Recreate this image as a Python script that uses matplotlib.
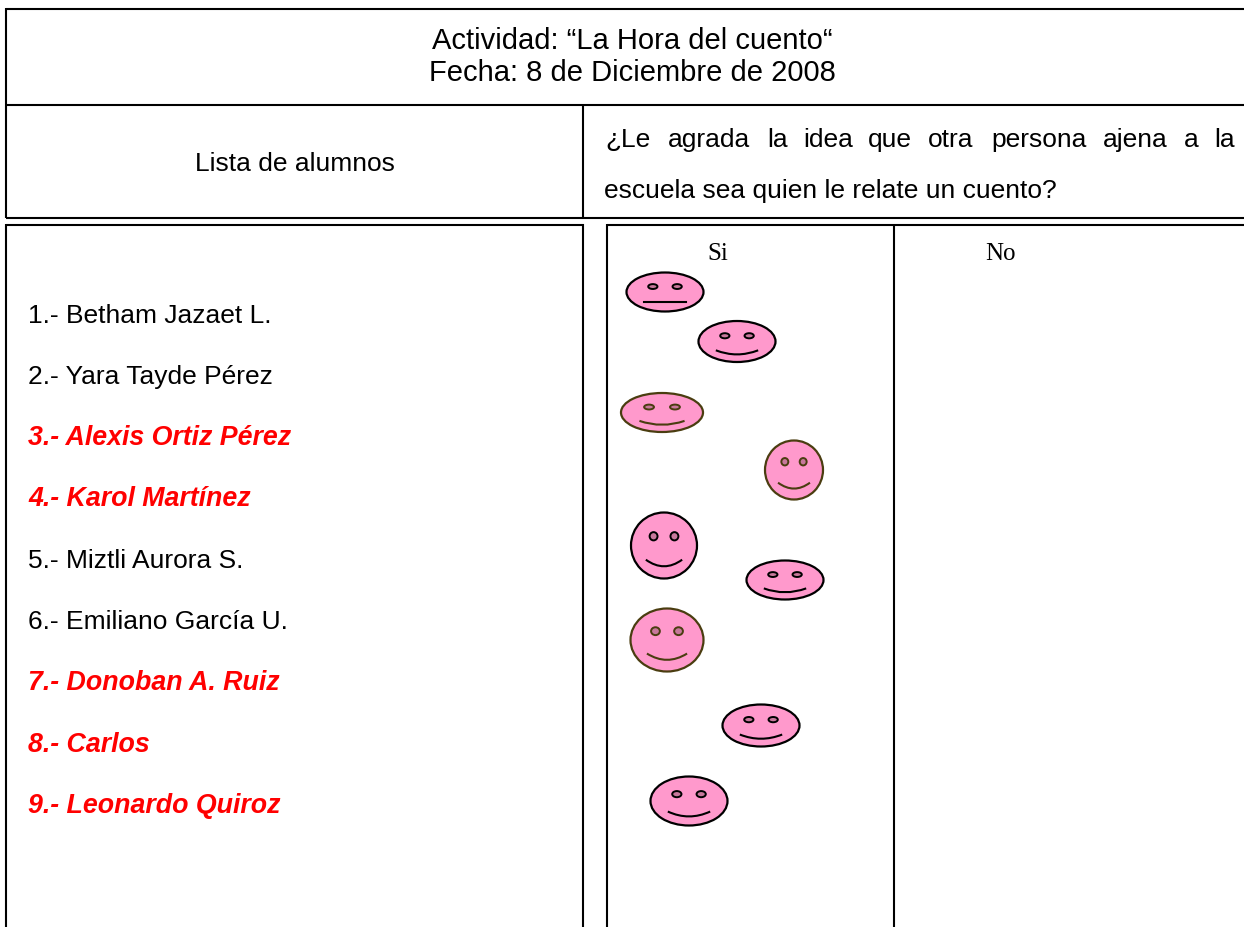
import matplotlib
matplotlib.use("Agg")
import matplotlib.pyplot as plt
from matplotlib.patches import Ellipse, PathPatch
from matplotlib.path import Path

# header text
titulo = ["Actividad: “La Hora del cuento“", "Fecha: 8 de Diciembre de 2008"]
lista_titulo = "Lista de alumnos"
pregunta_1 = ["¿Le", "agrada", "la", "idea", "que", "otra", "persona", "ajena", "a", "la"]
pregunta_1_x = [605, 668, 767, 803, 868, 928, 991, 1103, 1184, 1214]
pregunta_2 = "escuela sea quien le relate un cuento?"

alumnos = ["1.- Betham Jazaet L.", "2.- Yara Tayde Pérez", "3.- Alexis Ortiz Pérez",
           "4.- Karol Martínez", "5.- Miztli Aurora S.", "6.- Emiliano García U.",
           "7.- Donoban A. Ruiz", "8.- Carlos", "9.- Leonardo Quiroz"]
alumnos_y = [323, 384, 445, 506, 568, 629, 690, 752, 813]
en_rojo = [False, False, True, True, False, False, True, True, True]

# faces: centre x, centre y, width, height
cara_x = [665, 737, 662, 794, 664, 785, 667, 761, 689]
cara_y = [293, 342.5, 413.5, 471, 546.5, 581, 641, 726.5, 802]
cara_w = [77, 77, 82, 58, 66, 77, 73, 77, 77]
cara_h = [39, 41, 39, 59, 66, 39, 63, 42, 49]
cara_borde = ["black", "black", "#4a3d10", "#4a3d10", "black", "black", "#4a3d10", "black", "black"]
cara_recta = [True, False, False, False, False, False, False, False, False]

ROSA = "#ff99cc"
FUENTE = "Liberation Sans"

fig = plt.figure(figsize=(12.44, 9.28), dpi=100)
ax = fig.add_axes([0, 0, 1, 1])
ax.set_xlim(0, 1244)
ax.set_ylim(928, 0)
ax.axis("off")

# table lines
lw = 1.5
for y, x0, x1 in [(9.5, 6, 1244), (105.5, 6, 1244), (218.5, 6, 1244), (225.5, 6, 584), (225.5, 607, 1244)]:
    ax.plot([x0, x1], [y, y], color="black", lw=lw, solid_capstyle="butt")
for x, y0, y1 in [(6, 9, 219), (6, 225, 930), (583, 105, 219), (583, 225, 930),
                  (607, 225, 930), (894, 225, 930)]:
    ax.plot([x, x], [y0, y1], color="black", lw=lw, solid_capstyle="butt")

# header
ax.text(632, 49, titulo[0], family=FUENTE, fontsize=21, ha="center", va="baseline")
ax.text(632, 81, titulo[1], family=FUENTE, fontsize=21, ha="center", va="baseline")
ax.text(295, 164, lista_titulo, family=FUENTE, fontsize=19, ha="center", va="center")
for palabra, x in zip(pregunta_1, pregunta_1_x):
    ax.text(x, 147, palabra, family=FUENTE, fontsize=19, ha="left", va="baseline")
ax.text(604, 198, pregunta_2, family=FUENTE, fontsize=19, ha="left", va="baseline")

# student names
for nombre, y, rojo in zip(alumnos, alumnos_y, en_rojo):
    if rojo:
        ax.text(28, y, nombre, family=FUENTE, fontsize=19.25, color="#ff0000",
                fontweight="bold", fontstyle="italic", va="baseline")
    else:
        ax.text(28, y, nombre, family=FUENTE, fontsize=19, color="black", va="baseline")

ax.text(718, 254, "Si", family="Liberation Serif", fontsize=18, ha="center", va="center")
ax.text(1000, 254, "No", family="Liberation Serif", fontsize=18, ha="center", va="center")

# faces
for x, y, w, h, borde, recta in zip(cara_x, cara_y, cara_w, cara_h, cara_borde, cara_recta):
    ax.add_patch(Ellipse((x, y), w, h, facecolor=ROSA, edgecolor=borde, lw=1.6))
    for lado in (-1, 1):
        ax.add_patch(Ellipse((x + lado * 0.158 * w, y - 0.14 * h), 0.12 * w, 0.125 * h,
                             facecolor="#c8789c", edgecolor=borde, lw=1.4))
    if recta:
        ax.plot([x - 0.275 * w, x + 0.275 * w], [y + 0.265 * h] * 2, color=borde, lw=1.5)
    else:
        boca = Path([(x - 0.275 * w, y + 0.215 * h), (x, y + 0.415 * h), (x + 0.275 * w, y + 0.215 * h)],
                    [Path.MOVETO, Path.CURVE3, Path.CURVE3])
        ax.add_patch(PathPatch(boca, facecolor="none", edgecolor=borde, lw=1.5))

fig.savefig("out.png", dpi=100)
plt.close(fig)
